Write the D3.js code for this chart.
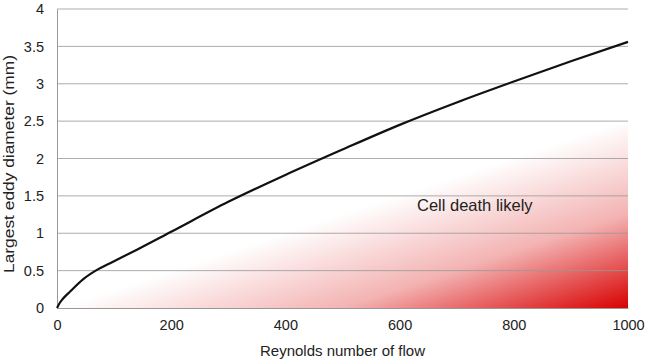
<!DOCTYPE html>
<html>
<head>
<meta charset="utf-8">
<script src="https://cdn.jsdelivr.net/npm/d3@7"></script>
<style>
  body { margin: 0; background: white; }
  text { font-family: "Liberation Sans", Arial, sans-serif; fill: #222; }
</style>
</head>
<body>
<svg width="647" height="360"></svg>
<script>
// data
const reynolds = [0, 5, 10, 23, 45, 70, 93, 140, 200, 300, 400, 500, 600, 700, 800, 900, 1000];
const eddyMm   = [0, 0.07, 0.12, 0.22, 0.38, 0.51, 0.6, 0.78, 1.02, 1.42, 1.78, 2.12, 2.45, 2.75, 3.03, 3.3, 3.56];
const xTicks = [0, 200, 400, 600, 800, 1000];
const yTicks = [0, 0.5, 1, 1.5, 2, 2.5, 3, 3.5, 4];
const dangerTop = 2.75;

const svg = d3.select("svg");
const margin = { left: 57, right: 19, top: 9, bottom: 52 };
const W = 647, H = 360;

const x = d3.scaleLinear().domain([0, 1000]).range([margin.left, W - margin.right]);
const y = d3.scaleLinear().domain([0, 4]).range([H - margin.bottom, margin.top]);

// gradient for the "cell death" zone
const defs = svg.append("defs");
const grad = defs.append("linearGradient")
  .attr("id", "death")
  .attr("gradientUnits", "userSpaceOnUse")
  .attr("x1", x(1000) - 56).attr("y1", y(0) - 170)
  .attr("x2", x(1000)).attr("y2", y(0));
grad.append("stop").attr("offset", 0).attr("stop-color", "#d80000").attr("stop-opacity", 0);
grad.append("stop").attr("offset", 0.5).attr("stop-color", "#d80000").attr("stop-opacity", 0.3);
grad.append("stop").attr("offset", 1).attr("stop-color", "#d80000").attr("stop-opacity", 1);

svg.append("rect")
  .attr("x", x(0)).attr("y", y(dangerTop))
  .attr("width", x(1000) - x(0)).attr("height", y(0) - y(dangerTop))
  .attr("fill", "url(#death)");

// gridlines
svg.append("g").selectAll("line")
  .data(yTicks.filter(d => d > 0))
  .enter().append("line")
  .attr("x1", x(0)).attr("x2", x(1000))
  .attr("y1", d => y(d)).attr("y2", d => y(d))
  .attr("stroke", "#999").attr("stroke-opacity", 0.8).attr("stroke-width", 1);

// axes
const yAxis = svg.append("g")
  .attr("transform", `translate(${x(0)},0)`)
  .call(d3.axisLeft(y).tickValues(yTicks).tickSize(0).tickPadding(13).tickFormat(d3.format("")));
const xAxis = svg.append("g")
  .attr("transform", `translate(0,${y(0)})`)
  .call(d3.axisBottom(x).tickValues(xTicks).tickSize(0).tickPadding(12).tickFormat(d3.format("d")));
[yAxis, xAxis].forEach(g => {
  g.select(".domain").attr("stroke", "#999");
  g.selectAll("text").attr("font-size", 14.5).attr("font-family", "Liberation Sans, Arial, sans-serif").attr("fill", "#222");
});

// curve
svg.append("path")
  .datum(reynolds.map((r, i) => [r, eddyMm[i]]))
  .attr("fill", "none")
  .attr("stroke", "#111")
  .attr("stroke-width", 2.2)
  .attr("d", d3.line().x(d => x(d[0])).y(d => y(d[1])).curve(d3.curveMonotoneX));

// annotation
svg.append("text")
  .attr("x", 417).attr("y", 211)
  .attr("font-size", 16.5)
  .text("Cell death likely");

// axis titles
svg.append("text")
  .attr("x", (x(0) + x(1000)) / 2).attr("y", 356)
  .attr("text-anchor", "middle").attr("font-size", 15)
  .text("Reynolds number of flow");
svg.append("text")
  .attr("transform", `translate(14,164) rotate(-90)`)
  .attr("text-anchor", "middle").attr("font-size", 15)
  .attr("textLength", 218).attr("lengthAdjust", "spacingAndGlyphs")
  .text("Largest eddy diameter (mm)");
</script>
</body>
</html>
